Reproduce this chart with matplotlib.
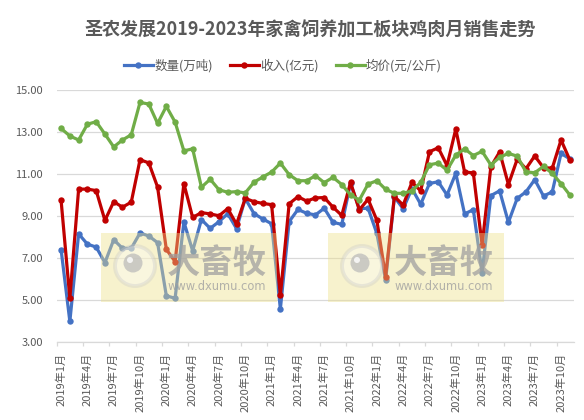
import matplotlib
matplotlib.use("Agg")
import matplotlib.pyplot as plt
from matplotlib.patches import Rectangle, Circle

plt.rcParams['font.family'] = ['Noto Sans CJK SC', 'DejaVu Sans']

months = [f"{y}年{m}月" for y in range(2019, 2024) for m in range(1, 13)][:59]

qty = [7.40, 3.98, 8.15, 7.66, 7.52, 6.78, 7.87, 7.46, 7.46, 8.19,
       8.05, 7.73, 5.20, 5.08, 8.72, 7.34, 8.83, 8.41, 8.73, 9.11,
       8.40, 9.83, 9.11, 8.86, 8.63, 4.57, 8.73, 9.31, 9.13, 9.05,
       9.37, 8.70, 8.60, 10.55, 9.35, 9.37, 8.17, 5.95, 9.90, 9.35,
       10.30, 9.56, 10.55, 10.63, 10.00, 11.03, 9.10, 9.30, 6.30, 9.97,
       10.20, 8.70, 9.84, 10.15, 10.73, 9.95, 10.15, 11.98, 11.72]

rev = [9.75, 5.08, 10.28, 10.28, 10.21, 8.79, 9.68, 9.42, 9.66, 11.68,
       11.53, 10.38, 7.41, 6.83, 10.54, 8.93, 9.16, 9.10, 9.01, 9.35,
       8.61, 9.84, 9.68, 9.60, 9.54, 5.22, 9.58, 9.92, 9.71, 9.86,
       9.88, 9.42, 9.03, 10.60, 9.29, 9.80, 8.80, 6.11, 9.93, 9.52,
       10.60, 10.20, 12.06, 12.25, 11.40, 13.14, 11.10, 11.05, 7.62, 11.35,
       12.05, 10.50, 11.70, 11.25, 11.86, 11.30, 11.28, 12.62, 11.67]

price = [13.17, 12.81, 12.62, 13.37, 13.49, 12.90, 12.29, 12.62, 12.87, 14.41,
         14.33, 13.41, 14.22, 13.47, 12.10, 12.20, 10.37, 10.75, 10.25, 10.13,
         10.16, 10.10, 10.61, 10.86, 11.09, 11.52, 10.97, 10.68, 10.68, 10.92,
         10.59, 10.84, 10.50, 10.00, 9.76, 10.52, 10.68, 10.27, 10.08, 10.08,
         10.20, 10.60, 11.44, 11.52, 11.18, 11.90, 12.20, 11.88, 12.08, 11.43,
         11.80, 11.98, 11.85, 11.10, 11.06, 11.36, 11.03, 10.54, 10.00]

series_names = ["数量(万吨)", "收入(亿元)", "均价(元/公斤)"]
colors = ["#4472C4", "#C00000", "#70AD47"]
title = "圣农发展2019-2023年家禽饲养加工板块鸡肉月销售走势"

W, H = 584, 420
fig = plt.figure(figsize=(W / 100, H / 100), dpi=100)
ax = fig.add_axes([56.7 / W, 1 - 342 / H, (574.2 - 56.7) / W, (342 - 90) / H])

x = list(range(len(months)))
lines = []
for data, c, name in zip([qty, rev, price], colors, series_names):
    ln, = ax.plot(x, data, color=c, lw=2.3, marker='o', ms=4.6,
                  markeredgewidth=0, label=name, zorder=3, solid_joinstyle='round')
    lines.append(ln)

ax.set_ylim(3, 15)
ax.set_xlim(-0.5, len(months) - 0.5)
ax.set_yticks([3, 5, 7, 9, 11, 13, 15])
ax.set_yticklabels([f"{v:.2f}" for v in [3, 5, 7, 9, 11, 13, 15]])
ax.grid(axis='y', color='#D9D9D9', lw=0.9)
ax.set_axisbelow(True)
for s in ['top', 'right', 'left']:
    ax.spines[s].set_visible(False)
ax.spines['bottom'].set_color('#D9D9D9')
ax.spines['bottom'].set_linewidth(0.9)

ax.set_xticks(x[::3])
ax.set_xticklabels(months[::3], rotation=90, fontsize=8, color='#595959', va='top')
ax.set_xticks([i - 0.5 for i in range(0, len(months), 3)], minor=True)
ax.tick_params(axis='x', which='major', length=0, pad=7.5)
ax.tick_params(axis='x', which='minor', length=3, color='#D9D9D9', width=0.9)
ax.tick_params(axis='y', length=0, pad=10, labelsize=8, labelcolor='#595959')

fig.text(310 / W, 1 - 30 / H, title, ha='center', va='center',
         fontsize=13, fontweight='bold', color='#595959')

fig.legend(handles=lines, loc='center', bbox_to_anchor=(283 / W, 1 - 66 / H),
           ncol=3, frameon=False, fontsize=9, handlelength=2.3, handletextpad=0.1,
           columnspacing=1.4, labelcolor='#595959', borderaxespad=0)

# watermark overlay
ov = fig.add_axes([0, 0, 1, 1], zorder=10)
ov.set_xlim(0, W)
ov.set_ylim(H, 0)
ov.axis('off')
ov.patch.set_alpha(0)
for dx in [0, 227]:
    ov.add_patch(Rectangle((101 + dx, 233), 176, 69, facecolor='#EEE08A',
                           alpha=0.42, edgecolor='none'))
    ov.add_patch(Circle((135 + dx, 266), 20, facecolor='white', alpha=0.35,
                        edgecolor='#C8C8C8', lw=2.8))
    ov.add_patch(Circle((133 + dx, 263), 9.5, facecolor='#B8B8B8', alpha=0.7,
                        edgecolor='none'))
    ov.add_patch(Circle((130 + dx, 260), 3, facecolor='white', alpha=0.8,
                        edgecolor='none'))
    ov.text(217 + dx, 263, "大畜牧", ha='center', va='center', fontsize=24,
            fontweight='bold', color='#A0A0A0', alpha=0.75)
    ov.text(217 + dx, 286, "www.dxumu.com", ha='center', va='center',
            fontsize=8.3, color='#A0A0A0', alpha=0.8, family='DejaVu Sans')

fig.savefig("out.png", dpi=100)
